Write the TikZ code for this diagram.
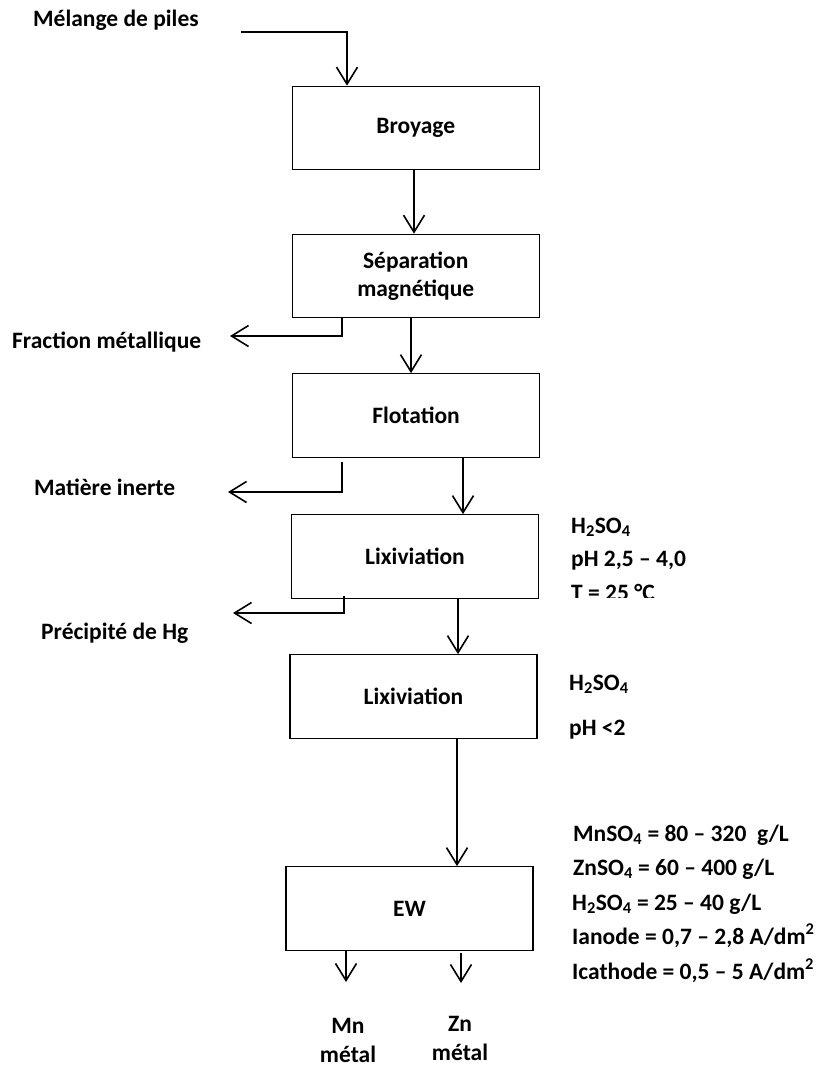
\documentclass[tikz,border=0pt]{standalone}
\usepackage{fontspec}
\setmainfont{Carlito}
\usetikzlibrary{arrows.meta,calc}
\newcommand\dfont{\fontsize{23.5}{28}\selectfont\bfseries}
\begin{document}
\begin{tikzpicture}[x=1pt,y=-1pt,
  box/.style={draw,line width=1.2pt,minimum width=247pt,minimum height=83.5pt,inner sep=0pt,font=\dfont},
  txt/.style={inner sep=0pt,font=\dfont,anchor=base west},
  prod/.style={inner sep=0pt,align=center,font=\fontsize{23.5}{29}\selectfont\bfseries,anchor=base},
  flow/.style={line width=1.6pt,-{Straight Barb[length=17pt,width=21pt,line width=1.6pt]}}
]
\useasboundingbox (0,0) rectangle (823,1068);

% process boxes
\node[box] (broyage) at (415.75,128) {Broyage};
\node[box,align=center] (sep) at (415.75,276) {Séparation\\magnétique};
\node[box] (flot) at (416,415.5) {Flotation};
\node[box] (lix1) at (415,556.5) {Lixiviation};
\node[box] (lix2) at (413.5,696.5) {Lixiviation};
\node[box] (ew) at (409.5,908.5) {EW};

% side labels
\node[txt] (melange) at (33,27) {Mélange de piles};
\node[txt] (frac) at (12,348) {Fraction métallique};
\node[txt] (mat) at (34,495) {Matière inerte};
\node[txt] (prec) at (41,639) {Précipité de Hg};

% conditions lix1
\node[txt] (c1a) at (571,533) {H\textsubscript{2}SO\textsubscript{4}};
\node[txt] (c1b) at (571,566) {pH 2,5 – 4,0};
\begin{scope}
  \clip (560,575) rectangle (720,597);
  \node[txt] (c1c) at (571,600) {T = 25 °C};
\end{scope}

% conditions lix2
\node[txt] (c2a) at (569,690) {H\textsubscript{2}SO\textsubscript{4}};
\node[txt] (c2b) at (569,735) {pH <2};

% conditions EW
\node[txt] (c3a) at (573,841) {MnSO\textsubscript{4} = 80 – 320\ \ g/L};
\node[txt] (c3b) at (573,875) {ZnSO\textsubscript{4} = 60 – 400 g/L};
\node[txt] (c3c) at (572,910) {H\textsubscript{2}SO\textsubscript{4} = 25 – 40 g/L};
\node[txt] (c3d) at (572,944) {Ianode = 0,7 – 2,8 A/dm\textsuperscript{2}};
\node[txt] (c3e) at (572,979) {Icathode = 0,5 – 5 A/dm\textsuperscript{2}};

% products
\node[prod] (mn) at (348,1062) {Mn\\métal};
\node[prod] (zn) at (460,1060) {Zn\\métal};

% free ends
\coordinate (in) at (241,32);
\coordinate (fracend) at (230,336);
\coordinate (matend) at (228,492);
\coordinate (precend) at (233,613);
\coordinate (mnend) at (346,982);
\coordinate (znend) at (461,983);

% connectors
\draw[flow] (in) -| ([xshift=-68.75pt]broyage.north);
\draw[flow] ([xshift=-1.75pt]broyage.south) -- ([xshift=-1.75pt]sep.north);
\draw[flow] ([xshift=-4.75pt]sep.south) -- ([xshift=-5pt]flot.north);
\draw[flow] ([xshift=-73.75pt]sep.south) |- (fracend);
\draw[flow] ([xshift=47pt]flot.south) -- ([xshift=48pt]lix1.north);
\draw[flow] ($(flot.south)+(-74,4)$) |- (matend);
\draw[flow] ([xshift=43pt]lix1.south) -- ([xshift=44.5pt]lix2.north);
\draw[flow] ($(lix1.south)+(-71,-3)$) |- (precend);
\draw[flow] ([xshift=43.5pt]lix2.south) -- ([xshift=47.5pt]ew.north);
\draw[flow] ([xshift=-63.5pt]ew.south) -- (mnend);
\draw[flow] ($(ew.south)+(51.5,2)$) -- (znend);
\end{tikzpicture}
\end{document}
